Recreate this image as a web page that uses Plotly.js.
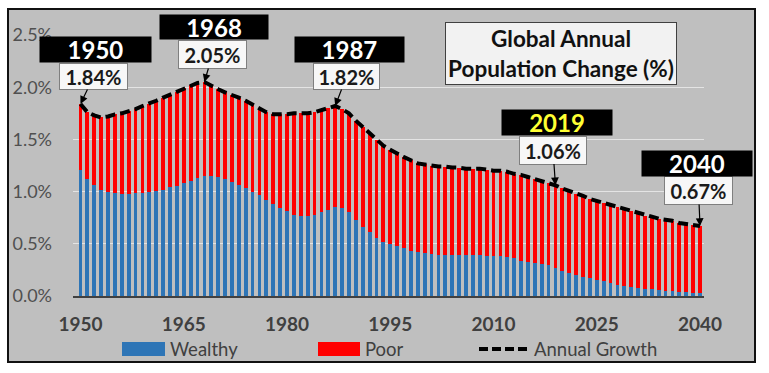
<!DOCTYPE html>
<html><head><meta charset="utf-8">
<script src="https://cdn.plot.ly/plotly-3.0.1.min.js"></script>
<style>html,body{margin:0;padding:0;background:#fff;}#chart{width:769px;height:373px;}</style>
</head><body><div id="chart"></div>
<script>
const years = [1950,1951,1952,1953,1954,1955,1956,1957,1958,1959,
1960,1961,1962,1963,1964,1965,1966,1967,1968,1969,
1970,1971,1972,1973,1974,1975,1976,1977,1978,1979,
1980,1981,1982,1983,1984,1985,1986,1987,1988,1989,
1990,1991,1992,1993,1994,1995,1996,1997,1998,1999,
2000,2001,2002,2003,2004,2005,2006,2007,2008,2009,
2010,2011,2012,2013,2014,2015,2016,2017,2018,2019,
2020,2021,2022,2023,2024,2025,2026,2027,2028,2029,
2030,2031,2032,2033,2034,2035,2036,2037,2038,2039,2040];

const wealthy = [1.21,1.12,1.06,1.02,1.00,0.99,0.98,0.98,0.99,0.99,
1.00,1.01,1.02,1.04,1.05,1.08,1.10,1.13,1.15,1.15,
1.14,1.12,1.09,1.06,1.03,1.00,0.97,0.92,0.88,0.84,
0.81,0.78,0.77,0.77,0.78,0.80,0.82,0.85,0.84,0.80,
0.73,0.66,0.61,0.56,0.52,0.50,0.48,0.46,0.43,0.42,
0.41,0.40,0.39,0.39,0.39,0.39,0.39,0.39,0.39,0.38,
0.38,0.38,0.37,0.36,0.34,0.33,0.32,0.31,0.30,0.27,
0.24,0.22,0.20,0.18,0.17,0.15,0.14,0.12,0.11,0.10,
0.09,0.08,0.07,0.065,0.06,0.05,0.045,0.04,0.035,0.03,0.025];

const poor = [0.63,0.64,0.67,0.69,0.72,0.75,0.77,0.79,0.80,0.83,
0.84,0.86,0.88,0.89,0.90,0.91,0.92,0.91,0.90,0.86,
0.84,0.83,0.84,0.84,0.84,0.83,0.82,0.84,0.86,0.90,
0.93,0.97,0.98,0.98,0.98,0.98,0.98,0.97,0.95,0.95,
0.95,0.96,0.95,0.93,0.92,0.90,0.88,0.87,0.87,0.85,
0.85,0.85,0.85,0.85,0.84,0.84,0.83,0.83,0.83,0.83,
0.82,0.82,0.82,0.81,0.82,0.81,0.80,0.80,0.78,0.79,
0.79,0.79,0.78,0.78,0.76,0.76,0.75,0.75,0.74,0.73,
0.72,0.71,0.70,0.695,0.68,0.68,0.675,0.66,0.655,0.65,0.645];

const annualGrowth = [1.84,1.76,1.73,1.71,1.72,1.74,1.75,1.77,1.79,1.82,
1.84,1.87,1.90,1.93,1.95,1.99,2.02,2.04,2.05,2.01,
1.98,1.95,1.93,1.90,1.87,1.83,1.79,1.76,1.74,1.74,
1.74,1.75,1.75,1.75,1.76,1.78,1.80,1.82,1.79,1.75,
1.68,1.62,1.56,1.49,1.44,1.40,1.36,1.33,1.30,1.27,
1.26,1.25,1.24,1.24,1.23,1.23,1.22,1.22,1.22,1.21,
1.20,1.20,1.19,1.17,1.16,1.14,1.12,1.11,1.08,1.06,
1.03,1.01,0.98,0.96,0.93,0.91,0.89,0.87,0.85,0.83,
0.81,0.79,0.77,0.76,0.74,0.73,0.72,0.70,0.69,0.68,0.67];

const tickYears = [1950,1965,1980,1995,2010,2025,2040];
const yTicks = [0,0.5,1.0,1.5,2.0,2.5];
const calloutYears = [1950,1968,1987,2019,2040];
const seriesNames = ['Wealthy','Poor','Annual Growth'];
const titleText = 'Global Annual<br>Population Change (%)';

// ---- geometry (pixels) ----
const FONT = "Lato, 'Open Sans', sans-serif";
const L = 73, R = 704, T = 35, B = 296;
const XR = [1948.91, 2040.58], YR = [0, 2.5];
const pxX = v => L + (v - XR[0]) / (XR[1] - XR[0]) * (R - L);
const pxY = v => B - (v - YR[0]) / (YR[1] - YR[0]) * (B - T);
const paperX = p => (p - L) / (R - L);
const paperY = p => (B - p) / (B - T);

// callout boxes: [centerX, centerY, width, height]
const calloutStyle = {
  1950: {yb:[95.5,49.5,111,25], vb:[93.7,76.5,69,27], col:'#ffffff'},
  1968: {yb:[214,27,108,24],   vb:[212.5,54.5,69,29], col:'#ffffff'},
  1987: {yb:[349.5,50,109,25], vb:[346.5,76.5,67,27], col:'#ffffff'},
  2019: {yb:[557,122.5,110,25], vb:[553,150,68,29],  col:'#ffff33'},
  2040: {yb:[696.7,163.3,110,25], vb:[698.5,190.5,69,29], col:'#ffffff'}
};

const annotations = [];
calloutYears.forEach(yr => {
  const i = years.indexOf(yr);
  const v = annualGrowth[i];
  const s = calloutStyle[yr];
  const px = pxX(yr), py = pxY(v);
  annotations.push({
    x: yr, y: v, xref:'x', yref:'y', showarrow:true,
    ax: s.vb[0]-px, ay: s.vb[1]-py,
    text: v.toFixed(2)+'%',
    font:{family:FONT, size:20, color:'#1a1a1a', weight:700},
    bgcolor:'#f7f7f7', bordercolor:'#7f7f7f', borderwidth:1, borderpad:0,
    width: s.vb[2]-2, height: s.vb[3]-2,
    arrowhead:2, arrowsize:1.3, arrowwidth:1.2, arrowcolor:'#000', standoff:0
  });
  annotations.push({
    x: yr, y: v, xref:'x', yref:'y', showarrow:false,
    xshift: s.yb[0]-px, yshift: py - s.yb[1],
    text: String(yr),
    font:{family:FONT, size:24, color:s.col, weight:700},
    bgcolor:'#000', borderpad:0, width:s.yb[2], height:s.yb[3]
  });
});

annotations.push({
  xref:'paper', yref:'paper', x: paperX(561), y: paperY(53), xanchor:'center', yanchor:'middle',
  showarrow:false, text:titleText, align:'center',
  font:{family:FONT, size:22.5, color:'#111', weight:700},
  bgcolor:'#f2f2f2', bordercolor:'#404040', borderwidth:1, borderpad:0,
  width:230, height:61
});

// custom legend text
const legendTextX = [168, 363, 532];
seriesNames.forEach((n, k) => {
  annotations.push({
    xref:'paper', yref:'paper', x: paperX(legendTextX[k]), y: paperY(349),
    xanchor:'left', yanchor:'middle', showarrow:false, text:n,
    font:{family:FONT, size:18.5, color:'#404040'}
  });
});

const shapes = [
  {type:'rect', xref:'paper', yref:'paper', layer:'below',
   x0: paperX(8), x1: paperX(755), y0: paperY(362), y1: paperY(9),
   fillcolor:'#bfbfbf', line:{color:'#111', width:2}},
  {type:'rect', xref:'paper', yref:'paper', x0:paperX(122), x1:paperX(165), y0:paperY(356), y1:paperY(342),
   fillcolor:'#2e75b6', line:{width:0}},
  {type:'rect', xref:'paper', yref:'paper', x0:paperX(318), x1:paperX(360), y0:paperY(356), y1:paperY(342),
   fillcolor:'#ff0000', line:{width:0}},
  {type:'line', xref:'paper', yref:'paper', x0:paperX(479), x1:paperX(530), y0:paperY(349), y1:paperY(349),
   line:{color:'#000', width:4, dash:'9px,4px'}}
];

const traces = [
  {type:'bar', name:seriesNames[0], x:years, y:wealthy, marker:{color:'#2e75b6', line:{width:0}}},
  {type:'bar', name:seriesNames[1], x:years, y:poor, marker:{color:'#ff0000', line:{width:0}}},
  {type:'scatter', mode:'lines', name:seriesNames[2], x:years, y:annualGrowth,
   line:{color:'#000', width:4, dash:'10px,5px'}}
];

const layout = {
  width:769, height:373,
  margin:{l:L, r:769-R, t:T, b:373-B, pad:0},
  paper_bgcolor:'#ffffff', plot_bgcolor:'rgba(0,0,0,0)',
  barmode:'stack', bargap:0.45, showlegend:false,
  xaxis:{range:XR, tickvals:tickYears, ticktext:tickYears.map(String), ticks:'',
    showgrid:false, zeroline:false, showline:true, linecolor:'#404040', linewidth:1.5,
    ticklabelstandoff:11, tickfont:{family:FONT, size:19, color:'#404040', weight:700}},
  yaxis:{range:YR, tickvals:yTicks, ticktext:yTicks.map(v=>v.toFixed(1)+'%'), ticks:'',
    showgrid:true, gridcolor:'#e4e4e4', gridwidth:1, zeroline:false, showline:false,
    ticklabelstandoff:20, tickfont:{family:FONT, size:18, color:'#505050'}},
  annotations, shapes
};

Plotly.newPlot('chart', traces, layout, {staticPlot:true, displayModeBar:false});
</script></body></html>
